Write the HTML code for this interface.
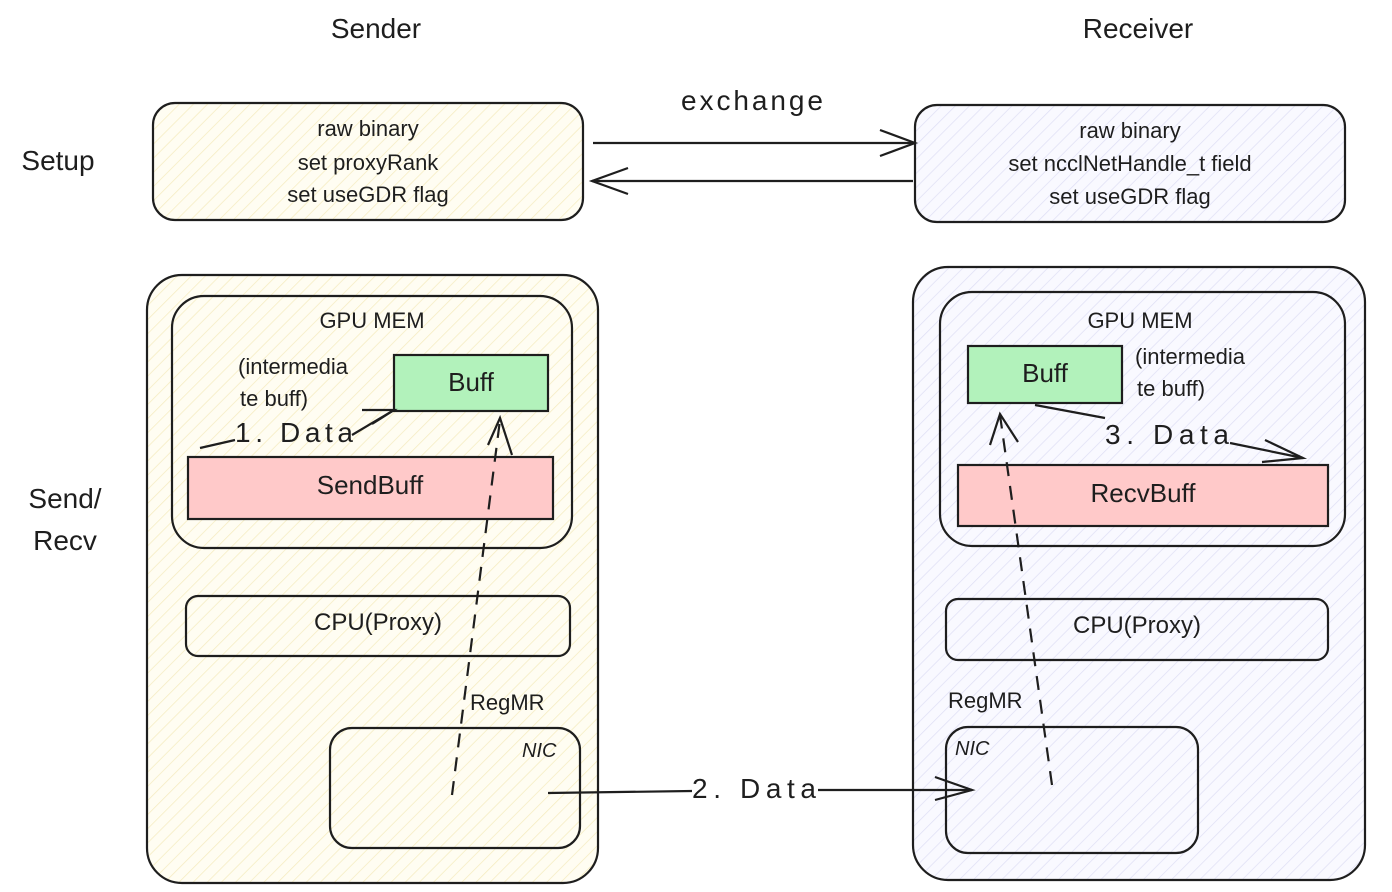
<!DOCTYPE html>
<html><head><meta charset="utf-8"><style>
html,body{margin:0;padding:0;background:#fff;}
svg{display:block}
text{font-family:"Liberation Sans",sans-serif;fill:#1e1e1e}
</style></head><body>
<svg width="1392" height="892" viewBox="0 0 1392 892" xmlns="http://www.w3.org/2000/svg">
<defs>
<pattern id="hy" width="10" height="10" patternUnits="userSpaceOnUse" patternTransform="rotate(45)">
<rect width="10" height="10" fill="#fffdf2"/><line x1="0" y1="0" x2="0" y2="10" stroke="#f5ecc0" stroke-width="1.5"/></pattern>
<pattern id="hp" width="10" height="10" patternUnits="userSpaceOnUse" patternTransform="rotate(45)">
<rect width="10" height="10" fill="#f9f9ff"/><line x1="0" y1="0" x2="0" y2="10" stroke="#e0e0f5" stroke-width="1.5"/></pattern>
</defs>
<g stroke="#1e1e1e" stroke-width="2.2" fill="none">
<rect x="153" y="103" width="430" height="117" rx="22" fill="url(#hy)"/>
<rect x="915" y="105" width="430" height="117" rx="22" fill="url(#hp)"/>
<line x1="593" y1="143" x2="915" y2="143"/>
<polyline points="880,130 915,143 880,156"/>
<line x1="913" y1="181" x2="592" y2="181"/>
<polyline points="628,168 592,181 628,194"/>
<rect x="147" y="275" width="451" height="608" rx="35" fill="url(#hy)"/>
<rect x="913" y="267" width="452" height="613" rx="35" fill="url(#hp)"/>
<rect x="172" y="296" width="400" height="252" rx="32" fill="url(#hy)"/>
<rect x="940" y="292" width="405" height="254" rx="32" fill="url(#hp)"/>
<rect x="394" y="355" width="154" height="56" fill="#b2f2bb"/>
<rect x="968" y="346" width="154" height="57" fill="#b2f2bb"/>
<rect x="188" y="457" width="365" height="62" fill="#ffc9c9"/>
<rect x="958" y="465" width="370" height="61" fill="#ffc9c9"/>
<rect x="186" y="596" width="384" height="60" rx="12" fill="url(#hy)"/>
<rect x="946" y="599" width="382" height="61" rx="12" fill="url(#hp)"/>
<rect x="330" y="728" width="250" height="120" rx="22" fill="url(#hy)"/>
<rect x="946" y="727" width="252" height="126" rx="22" fill="url(#hp)"/>
<path d="M452 795 L500 420" stroke-dasharray="14 10"/>
<polyline points="488,445 500,418 512,455"/>
<path d="M1052 785 L1000 415" stroke-dasharray="14 10"/>
<polyline points="990,445 1000,414 1018,442"/>
<path d="M352 435 L394 410"/>
<polyline points="362,410 394,410 372,424"/>
<path d="M200 448 L235 440"/>
<path d="M1035 405 L1105 418"/>
<path d="M1230 443 L1303 458"/>
<polyline points="1265,440 1303,458 1262,462"/>
<path d="M548 793 L692 791"/>
<path d="M818 790 L972 790"/>
<polyline points="935,777 972,790 935,800"/>
</g>
<g font-size="28" text-anchor="middle">
<text x="376" y="38">Sender</text>
<text x="1138" y="38">Receiver</text>
<text x="752" y="110" textLength="142">exchange</text>
<text x="58" y="170">Setup</text>
<text x="65" y="508">Send/</text>
<text x="65" y="550">Recv</text>
</g>
<g font-size="22" text-anchor="middle">
<text x="368" y="136">raw binary</text>
<text x="368" y="170">set proxyRank</text>
<text x="368" y="202">set useGDR flag</text>
<text x="1130" y="138">raw binary</text>
<text x="1130" y="171">set ncclNetHandle_t field</text>
<text x="1130" y="204">set useGDR flag</text>
<text x="372" y="328">GPU MEM</text>
<text x="1140" y="328">GPU MEM</text>
<text x="471" y="391" font-size="26">Buff</text>
<text x="1045" y="382" font-size="26">Buff</text>
<text x="370" y="494" font-size="26">SendBuff</text>
<text x="1143" y="502" font-size="26">RecvBuff</text>
<text x="378" y="630" font-size="24">CPU(Proxy)</text>
<text x="1137" y="633" font-size="24">CPU(Proxy)</text>
</g>
<g font-size="22">
<text x="238" y="374">(intermedia</text>
<text x="240" y="406">te buff)</text>
<text x="1135" y="364">(intermedia</text>
<text x="1137" y="396">te buff)</text>
<text x="235" y="442" font-size="28" textLength="118">1. Data</text>
<text x="1105" y="444" font-size="28" textLength="124">3. Data</text>
<text x="692" y="798" font-size="28" textLength="124">2. Data</text>
<text x="470" y="710">RegMR</text>
<text x="948" y="708">RegMR</text>
<text x="522" y="757" font-size="20" font-style="italic">NIC</text>
<text x="955" y="755" font-size="20" font-style="italic">NIC</text>
</g>
</svg>
</body></html>
